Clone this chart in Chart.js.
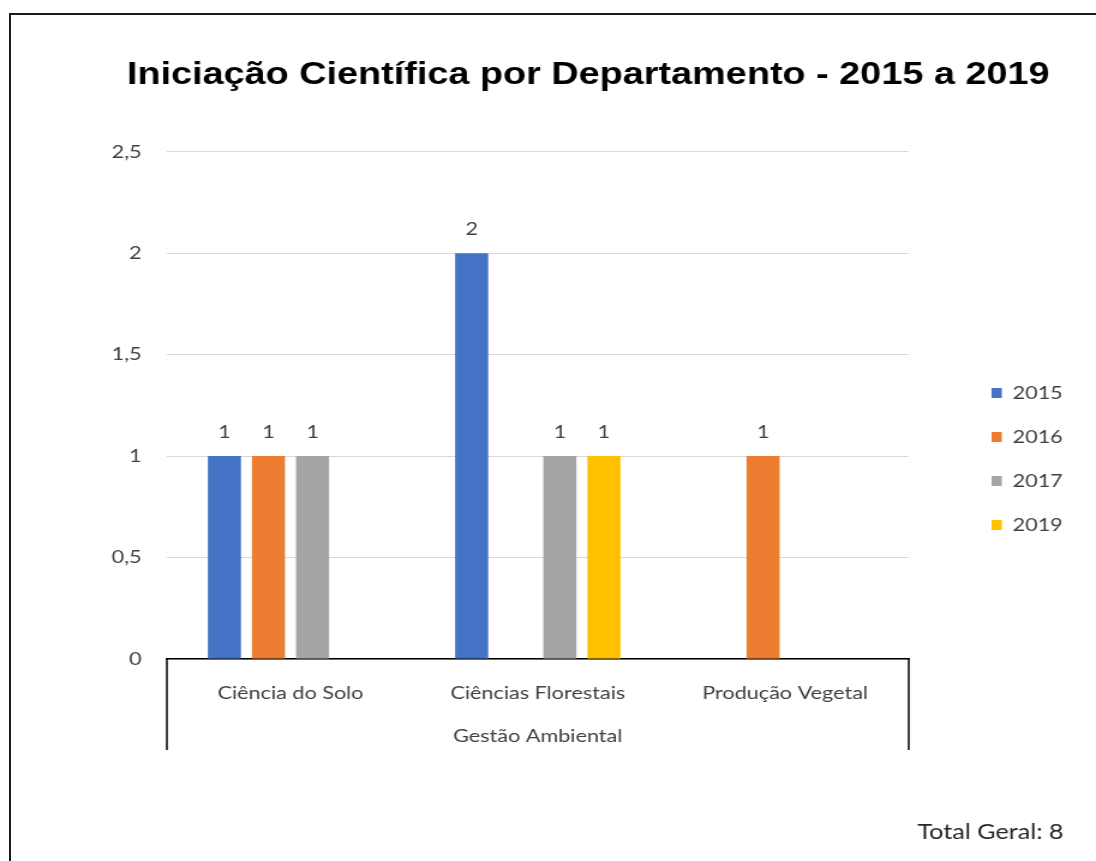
<!DOCTYPE html>
<html lang="pt-BR">
<head>
<meta charset="utf-8">
<title>Iniciação Científica por Departamento</title>
<script src="https://cdn.jsdelivr.net/npm/chart.js@4.4.1/dist/chart.umd.min.js"></script>
<style>
    html, body { margin: 0; padding: 0; background: #fff; overflow: hidden; }
    #frame {
        position: absolute; left: 9px; top: 13px; width: 2000px; height: 2000px;
        border-left: 2px solid #1a1a1a; border-top: 2px solid #1a1a1a;
    }
    #chart { position: absolute; left: 0; top: 0; }
</style>
</head>
<body>
<div id="frame"></div>
<!-- the source picture is stretched sideways, so the canvas is too -->
<canvas id="chart" width="913" height="861" style="width: 1096px; height: 861px;"></canvas>

<script>
// Chart data
const categories = ['Ciência do Solo', 'Ciências Florestais', 'Produção Vegetal'];
const groupLabel = 'Gestão Ambiental';
const seriesNames = ['2015', '2016', '2017', '2019'];
const values2015 = [1, 2, null];
const values2016 = [1, null, 1];
const values2017 = [1, 1, null];
const values2019 = [null, 1, null];
const yTickLabels = ['0', '0,5', '1', '1,5', '2', '2,5'];
const seriesColors = ['#4472C4', '#ED7D31', '#A5A5A5', '#FFC000'];

const seriesValues = [values2015, values2016, values2017, values2019];
const totalGeral = seriesValues.flat().reduce((s, v) => s + (v || 0), 0);

const textColor = '#404040';
const labelFont = { family: 'Lato', size: 18 };

// Excel style labels, axis box, group label and total
const excelExtras = {
    id: 'excelExtras',
    beforeInit(chart) {
        const legend = chart.legend;
        const origFit = legend.fit;
        legend.fit = function () {
            origFit.call(this);
            this.width = 148;
        };
    },
    afterLayout(chart) {
        const legend = chart.legend;
        legend.left = 800;
        legend.right = legend.left + 110;
        legend.top = 358;
        legend.bottom = legend.top + 400;
    },
    afterDatasetsDraw(chart) {
        const ctx = chart.ctx;
        ctx.save();
        ctx.fillStyle = textColor;
        ctx.font = '18px Lato';
        ctx.textAlign = 'center';
        ctx.textBaseline = 'middle';
        chart.data.datasets.forEach((ds, i) => {
            chart.getDatasetMeta(i).data.forEach((bar, j) => {
                if (ds.data[j] === null) return;
                ctx.fillText(String(ds.data[j]), bar.x, bar.y - 24);
            });
        });
        ctx.restore();
    },
    afterDraw(chart) {
        const ctx = chart.ctx;
        const x = chart.scales.x;
        ctx.save();
        // multi-level axis box
        ctx.strokeStyle = '#000';
        ctx.lineWidth = 1.5;
        ctx.beginPath();
        ctx.moveTo(x.left, x.top);
        ctx.lineTo(x.left, 750);
        ctx.moveTo(x.right, x.top);
        ctx.lineTo(x.right, 750);
        ctx.stroke();

        ctx.fillStyle = textColor;
        ctx.font = '18px Lato';
        ctx.textAlign = 'center';
        ctx.textBaseline = 'middle';
        ctx.fillText(groupLabel, (x.left + x.right) / 2, 736);

        ctx.fillStyle = '#262626';
        ctx.font = '21px Lato';
        ctx.textAlign = 'right';
        ctx.fillText('Total Geral: ' + totalGeral, chart.width - 27, 832);
        ctx.restore();
    }
};

const ctx = document.getElementById('chart').getContext('2d');
new Chart(ctx, {
    type: 'bar',
    data: {
        labels: categories,
        datasets: seriesNames.map((name, i) => ({
            label: name,
            data: seriesValues[i],
            backgroundColor: seriesColors[i],
            borderWidth: 0,
            categoryPercentage: 0.713,
            barPercentage: 0.75
        }))
    },
    options: {
        responsive: false,
        animation: false,
        devicePixelRatio: 1,
        layout: { padding: { left: 75, right: 8, top: 0, bottom: 0 } },
        plugins: {
            tooltip: { enabled: false },
            title: {
                display: true,
                text: 'Iniciação Científica por Departamento - 2015 a 2019',
                color: '#000',
                font: { family: 'Liberation Sans', size: 31.5, weight: 'bold' },
                padding: { top: 56, bottom: 58 }
            },
            legend: {
                position: 'right',
                align: 'start',
                labels: {
                    boxWidth: 8.5,
                    boxHeight: 10,
                    padding: 26,
                    color: textColor,
                    font: labelFont
                }
            }
        },
        scales: {
            x: {
                grid: { display: false, drawTicks: false },
                border: { display: true, color: '#000', width: 1.5 },
                ticks: { padding: 23, color: textColor, font: labelFont, maxRotation: 0, autoSkip: false },
                afterFit(scale) { scale.height = 202; }
            },
            y: {
                min: 0,
                max: 2.5,
                grid: { color: '#d9d9d9', drawTicks: false },
                border: { display: false },
                ticks: {
                    stepSize: 0.5,
                    padding: 21,
                    color: textColor,
                    font: labelFont,
                    callback: (value, index) => yTickLabels[index]
                },
                afterFit(scale) { scale.width = 64; }
            }
        }
    },
    plugins: [excelExtras]
});
</script>
</body>
</html>
